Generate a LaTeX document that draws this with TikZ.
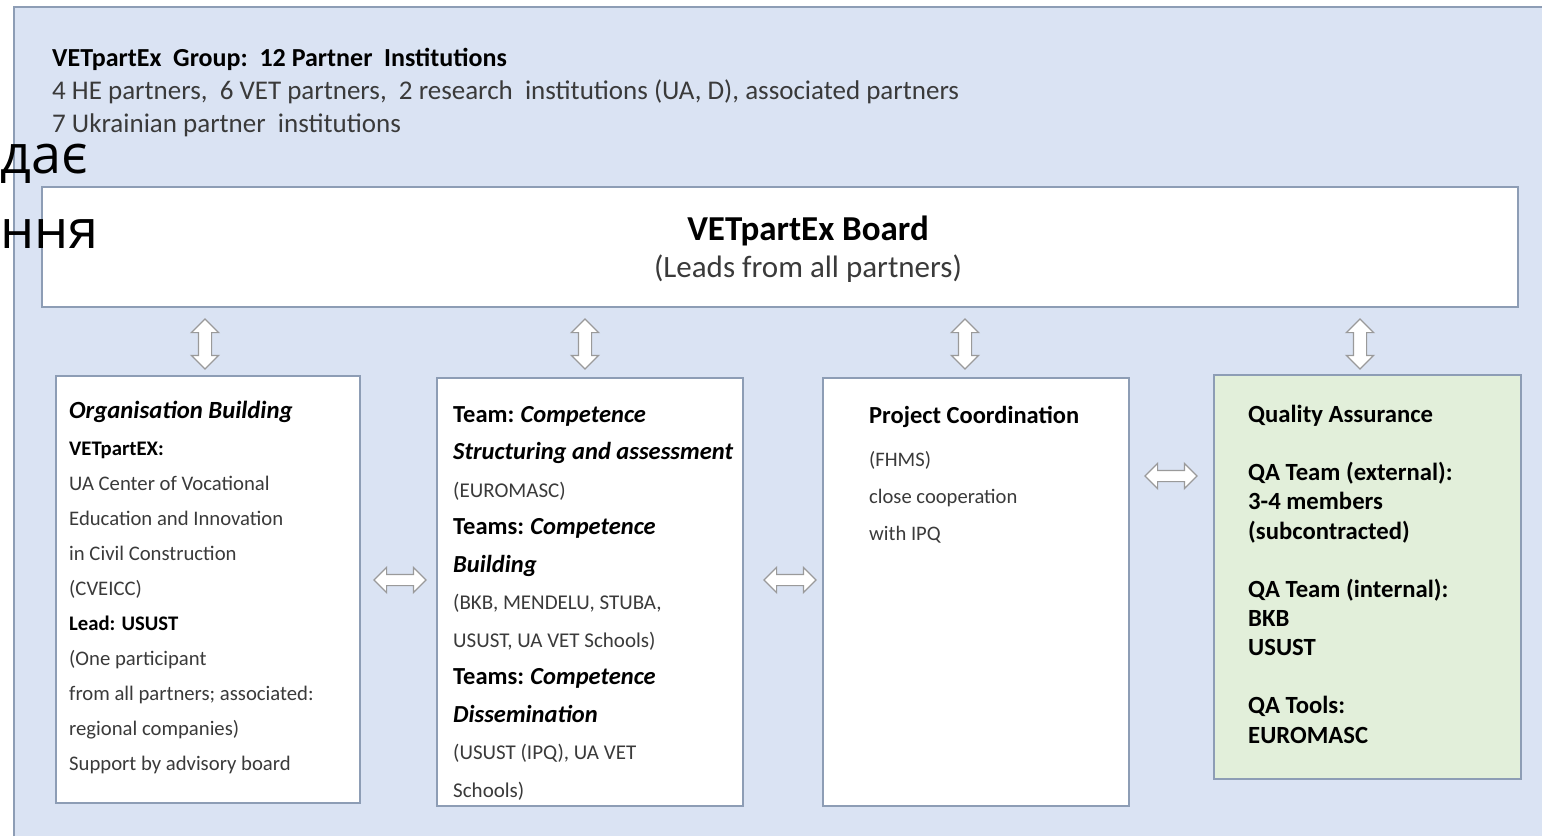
\documentclass[tikz,border=0pt]{standalone}
\usepackage{fontspec}
\setmainfont{Carlito}
\newfontfamily\cyrfont{Open Sans}
\usetikzlibrary{shapes.arrows}

\definecolor{panelblue}{HTML}{DAE3F3}
\definecolor{linegray}{HTML}{8D9DB5}
\definecolor{arrowgray}{HTML}{9A9A9A}
\definecolor{qagreen}{HTML}{E2EFDA}
\definecolor{txtgray}{HTML}{3A3A3A}

\newcommand{\bk}[1]{{\color{black}\bfseries #1}}
\newcommand{\hd}[1]{{\color{black}\fontsize{24.5}{24}\selectfont\bfseries #1}}
\newcommand{\hi}[1]{{\color{black}\fontsize{24.5}{24}\selectfont\bfseries\itshape #1}}

\begin{document}
\begin{tikzpicture}[x=1pt,y=-1pt]
  \tikzstyle{box}=[draw=linegray,line width=1.5pt,fill=white,inner sep=0pt]
  \tikzstyle{txt}=[anchor=north west,align=left,inner sep=0pt,text=txtgray]
  \tikzstyle{vdarrow}=[double arrow,draw=arrowgray,fill=white,line width=1.2pt,
    inner xsep=0pt,inner ysep=6pt,double arrow head extend=7pt,
    double arrow head indent=0pt,minimum height=50pt,rotate=90]
  \tikzstyle{hdarrow}=[double arrow,draw=arrowgray,fill=white,line width=1.2pt,
    inner xsep=0pt,inner ysep=5pt,double arrow head extend=7pt,
    double arrow head indent=0pt,minimum height=52pt]

  \useasboundingbox (0,0) rectangle (1542,836);

  % panel
  \fill[panelblue] (14,7) rectangle (1542,836);
  \draw[linegray,line width=1.2pt] (14,836) -- (14,7) -- (1542,7);

  \node[anchor=base west,inner sep=0pt,font=\fontsize{26}{30}\selectfont\bfseries] (grp) at (52,66)
    {VETpartEx\ \ Group:\ \ 12 Partner\ \ Institutions};
  \node[anchor=base west,inner sep=0pt,text=txtgray,font=\fontsize{27}{30}\selectfont] (mix) at (52,99)
    {4 HE partners,\ \ 6 VET partners,\ \ 2 research\ \ institutions (UA, D), associated partners};
  \node[anchor=base west,inner sep=0pt,text=txtgray,font=\fontsize{27}{30}\selectfont] (ukr) at (52,132)
    {7 Ukrainian partner\ \ institutions};

  % board
  \node[box,minimum width=1476pt,minimum height=120pt] (board) at (780,247) {};
  \node[anchor=base,inner sep=0pt,font=\fontsize{35}{40}\selectfont\bfseries] (title) at (808,240)
    {VETpartEx Board};
  \node[anchor=base,inner sep=0pt,text=txtgray,font=\fontsize{31}{36}\selectfont] (leads) at (808,277)
    {(Leads from all partners)};

  % four units
  \node[box,minimum width=304pt,minimum height=427pt] (org) at (208,589.5) {};
  \node[box,minimum width=306pt,minimum height=428pt] (teams) at (590,592) {};
  \node[box,minimum width=306pt,minimum height=428pt] (coord) at (976,592) {};
  \node[box,fill=qagreen,minimum width=307pt,minimum height=404pt] (qa) at (1367.5,577) {};

  \node[txt,font=\fontsize{20.7}{35}\selectfont] (orgtxt) at (69,401)
    {{\color{black}\fontsize{24.7}{25}\selectfont\bfseries\itshape Organisation Building}\\[2pt]
     \bk{VETpartEX:}\\
     UA Center of Vocational\\
     Education and Innovation\\
     in Civil Construction\\
     (CVEICC)\\
     \bk{Lead: USUST}\\
     (One participant\\
     from all partners; associated:\\
     regional companies)\\
     Support\ by advisory board};

  \node[txt,font=\fontsize{21}{37.5}\selectfont] (teamstxt) at (453,406)
    {\hd{Team:} \hi{Competence}\\
     \hi{Structuring and assessment}\\
     (EUROMASC)\\
     \hd{Teams:} \hi{Competence}\\
     \hi{Building}\\
     (BKB, MENDELU, STUBA,\\
     USUST,\ UA VET Schools)\\
     \hd{Teams:} \hi{Competence}\\
     \hi{Dissemination}\\
     (USUST\ (IPQ), UA VET\\
     Schools)};

  \node[txt,font=\fontsize{20.6}{37}\selectfont] (coordtxt) at (869,406)
    {\hd{Project Coordination}\\[6pt]
     (FHMS)\\
     close cooperation\\
     with IPQ};

  \node[txt,text=black,font=\fontsize{24.7}{29.2}\selectfont\bfseries] (qatxt) at (1248,405)
    {Quality Assurance\\[29pt]
     QA Team (external):\\
     3-4 members\\
     (subcontracted)\\[29pt]
     QA Team (internal):\\
     BKB\\
     USUST\\[29pt]
     QA Tools:\\
     EUROMASC};

  % links
  \foreach \x/\n in {205/1,585/2,965/3,1360/4}
    \node[vdarrow] (v\n) at (\x,344) {};
  \node[hdarrow] (h1) at (400,580) {};
  \node[hdarrow] (h2) at (790,580) {};
  \node[hdarrow] (h3) at (1171,476) {};

  % overlaid fragments
  \node[anchor=base west,inner sep=0pt,font=\cyrfont\fontsize{54}{60}\selectfont] (frag1) at (0,173) {дає};
  \node[anchor=base west,inner sep=0pt,font=\cyrfont\fontsize{54}{60}\selectfont] (frag2) at (0,248) {ння};
\end{tikzpicture}
\end{document}
